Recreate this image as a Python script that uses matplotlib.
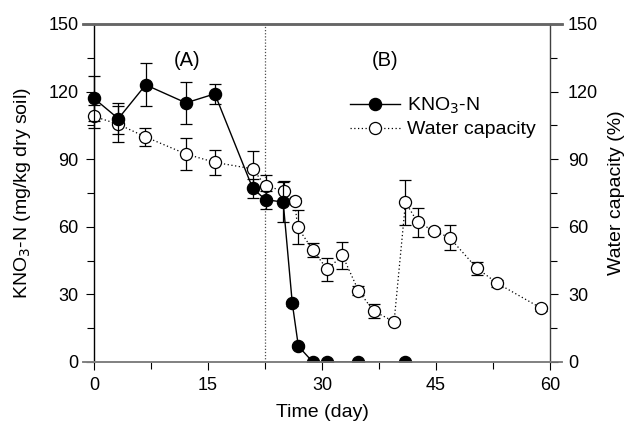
import matplotlib
matplotlib.use("Agg")
import matplotlib.pyplot as plt
from matplotlib.ticker import MultipleLocator
from matplotlib.lines import Line2D

plt.rcParams['font.family'] = ['Liberation Sans', 'DejaVu Sans']

# KNO3-N (filled circles)
kno3_day = [0, 3.2, 6.8, 12.1, 15.9, 20.9, 22.6, 24.9, 26.1, 26.9, 28.8, 30.7, 34.8, 41.0]
kno3_val = [117, 108, 123, 115, 119, 77, 72, 71, 26, 7, 0, 0, 0, 0]
kno3_err = [10, 7, 9.5, 9.4, 4.5, 4, 4, 9, 1, 1, 0, 0, 0, 0]

# Water capacity (open circles)
wc_day = [0, 3.2, 6.7, 12.1, 15.9, 20.9, 22.6, 25.0, 26.4, 26.8, 28.8, 30.7, 32.7,
          34.8, 36.8, 39.5, 41.0, 42.6, 44.8, 46.8, 50.4, 53.1, 58.9]
wc_val = [109, 105.5, 100, 92.3, 88.6, 85.7, 78, 76, 71.6, 59.8, 49.7, 41.1, 47.3,
          31.7, 22.6, 17.9, 70.9, 62, 58.1, 55.2, 41.6, 34.9, 23.8]
wc_err = [5, 8, 4, 7, 5.7, 8, 5, 4.5, 1, 7.5, 3, 5, 6,
          2, 3, 1, 10, 6.5, 1.5, 5.6, 3, 1.5, 1]

fig = plt.figure(figsize=(6.29, 4.30), dpi=100)
ax = fig.add_axes([83/629, 1-362/430, (562-83)/629, (362-24)/430])
ax2 = ax.twinx()

ax.set_xlim(-1.45, 61.6)
ax.set_ylim(0, 150)
ax2.set_ylim(0, 150)

# vertical divider
ax.axvline(22.5, color='0.3', lw=0.9, ls=(0, (1, 1.5)), zorder=1)

ms = 8.7
ax.errorbar(wc_day, wc_val, yerr=wc_err, fmt='o', ls=(0, (1, 2)), color='black', lw=0.9,
            mfc='white', mec='black', mew=0.9, ms=ms, capsize=4, elinewidth=0.9,
            capthick=0.9, zorder=3)
ax.errorbar(kno3_day, kno3_val, yerr=kno3_err, fmt='o', ls='-', color='black', lw=1.0,
            mfc='black', mec='black', ms=ms, capsize=4, elinewidth=0.9,
            capthick=0.9, zorder=4)

# spines
for a in (ax, ax2):
    a.spines['left'].set_position(('data', 0))
    a.spines['right'].set_position(('data', 60))
    a.spines['top'].set_color('0.4')
    a.spines['top'].set_linewidth(1.8)
    a.spines['bottom'].set_color('0.5')
    a.spines['bottom'].set_linewidth(1.2)
ax.spines['right'].set_visible(False)
ax2.spines['left'].set_visible(False)
ax2.spines['right'].set_color('0.25')
ax2.spines['right'].set_linewidth(1.0)
ax.spines['left'].set_linewidth(1.0)

ax.xaxis.set_major_locator(MultipleLocator(15))
ax.xaxis.set_minor_locator(MultipleLocator(7.5))
for a in (ax, ax2):
    a.yaxis.set_major_locator(MultipleLocator(30))
    a.yaxis.set_minor_locator(MultipleLocator(15))
ax.tick_params(axis='both', which='major', direction='out', length=6, width=0.8,
               labelsize=13, pad=5)
ax.tick_params(axis='both', which='minor', direction='out', length=5, width=0.8)
ax.tick_params(axis='x', which='both', top=False)
ax2.tick_params(axis='y', which='major', direction='out', length=6, width=0.8,
                labelsize=13, pad=7)
ax2.tick_params(axis='y', which='minor', direction='out', length=5, width=0.8)

ax.set_xlabel('Time (day)', fontsize=14, labelpad=7)
ax.set_ylabel('KNO$_3$-N (mg/kg dry soil)', fontsize=14, labelpad=11)
ax2.set_ylabel('Water capacity (%)', fontsize=14, labelpad=7)

ax.text(12.2, 134, '(A)', fontsize=14.5, ha='center', va='center')
ax.text(38.3, 134, '(B)', fontsize=14.5, ha='center', va='center')

handles = [
    Line2D([], [], color='black', ls='-', lw=1.0, marker='o', mfc='black', mec='black', ms=ms),
    Line2D([], [], color='black', ls=(0, (1, 2)), lw=0.9, marker='o', mfc='white', mec='black',
           mew=0.9, ms=ms),
]
fig.legend(handles, ['KNO$_3$-N', 'Water capacity'], loc='center left',
           bbox_to_anchor=(336/629, 1-117/430), frameon=False, fontsize=14,
           handlelength=2.6, handletextpad=0.35, labelspacing=0.25, borderpad=0.2)

fig.savefig('out.png', dpi=100)
